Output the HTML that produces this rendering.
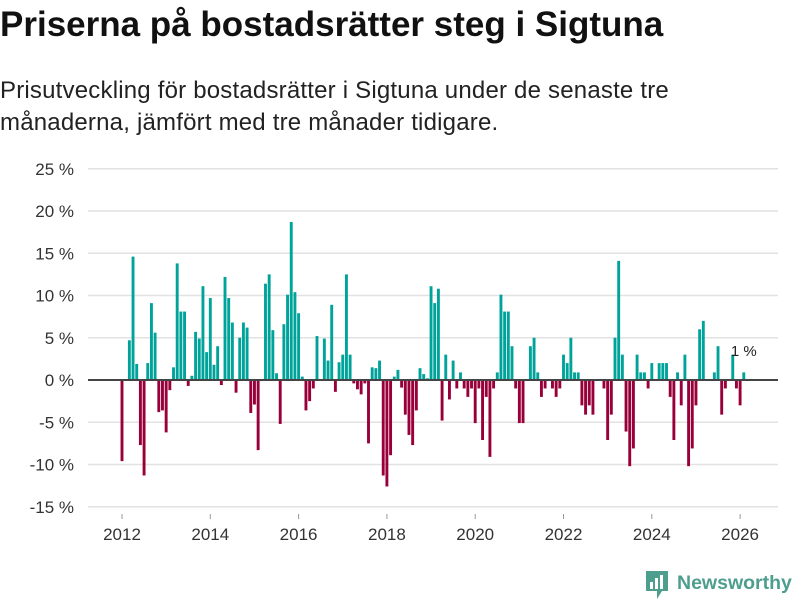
<!DOCTYPE html>
<html><head><meta charset="utf-8"><style>
body{margin:0;background:#fff;font-family:"Liberation Sans",sans-serif;}
#wrap{position:relative;width:800px;height:600px;overflow:hidden;}
h1{position:absolute;left:0;top:5px;margin:0;font-size:35px;font-weight:bold;color:#111;letter-spacing:0px;white-space:nowrap;}
p{position:absolute;left:0;top:75px;margin:0;font-size:24px;line-height:32px;color:#222;width:720px;letter-spacing:0.2px;white-space:nowrap;}
svg{position:absolute;left:0;top:0;}
</style></head><body>
<div id="wrap">
<h1>Priserna på bostadsrätter steg i Sigtuna</h1>
<p>Prisutveckling för bostadsrätter i Sigtuna under de senaste tre<br>månaderna, jämfört med tre månader tidigare.</p>
<svg id="chart" width="800" height="600"></svg>
</div>
<script>
const startYear = 2012;
const values = [-9.6,0,4.7,14.6,1.9,-7.7,-11.3,2.0,9.1,5.6,-3.8,-3.6,-6.2,-1.2,1.5,13.8,8.1,8.1,-0.7,0.5,5.7,4.9,11.1,3.3,9.7,1.8,4.0,-0.6,12.2,9.7,6.8,-1.5,5.0,6.8,6.2,-3.9,-2.9,-8.3,0,11.4,12.5,5.9,0.8,-5.2,6.6,10.1,18.7,10.4,7.9,0.4,-3.6,-2.5,-1.0,5.2,0,4.9,2.3,8.9,-1.4,2.1,3.0,12.5,3.0,-0.4,-1.1,-1.7,-0.4,-7.5,1.5,1.4,2.3,-11.3,-12.6,-8.9,0.4,1.2,-0.9,-4.1,-6.5,-7.7,-3.6,1.4,0.7,0.2,11.1,9.1,10.8,-4.8,3.0,-2.3,2.3,-1.0,0.9,-1.0,-2.0,-1.0,-5.1,-1.0,-7.1,-2.0,-9.1,-1.0,0.9,10.1,8.1,8.1,4.0,-1.0,-5.1,-5.1,0,4.0,5.0,0.9,-2.0,-1.0,0,-1.0,-2.0,-1.0,3.0,2.0,5.0,0.9,0.9,-3.0,-4.1,-3.0,-4.1,0,0,-1.0,-7.1,-4.1,5.0,14.1,3.0,-6.1,-10.2,-8.1,3.0,0.9,0.9,-1.0,2.0,0,2.0,2.0,2.0,-2.0,-7.1,0.9,-3.0,3.0,-10.2,-8.1,-3.0,6.0,7.0,0,0,0.9,4.0,-4.1,-1.0,0,3.0,-1.0,-3.0,0.9];
const yTicks = [-15,-10,-5,0,5,10,15,20,25];
const xTicks = [2012,2014,2016,2018,2020,2022,2024,2026];
const lastLabel = "1 %";

const svg = document.getElementById('chart');
const NS = 'http://www.w3.org/2000/svg';
function yS(v){return 380 - v*8.45;}
function xS(yearFrac){return 122 + (yearFrac-2012)*44.15;}
function mk(t,a){const e=document.createElementNS(NS,t);for(const k in a)e.setAttribute(k,a[k]);svg.appendChild(e);return e;}

yTicks.forEach(t=>{
  if(t!==0){const g=mk('line',{x1:88,x2:778,y1:yS(t),y2:yS(t),stroke:'#e2e2e2','stroke-width':1.5});
  
  }
  const l=mk('text',{x:74,y:yS(t)+6,'text-anchor':'end','font-size':17,fill:'#333','font-family':'Liberation Sans, sans-serif'});
  l.textContent=t+' %';
  
  
});
xTicks.forEach(t=>{
  const tk=mk('line',{x1:xS(t),x2:xS(t),y1:514,y2:519,stroke:'#999','stroke-width':1});
  
  
  const l=mk('text',{x:xS(t),y:540,'text-anchor':'middle','font-size':17,fill:'#333','font-family':'Liberation Sans, sans-serif'});
  l.textContent=t;
  
  
});
values.forEach((v,i)=>{
  if(v===0)return;
  const x=xS(startYear+i/12);
  const y0=yS(0), y1=yS(v);
  const b=mk('rect',{x:x-1.45,y:Math.min(y0,y1),width:2.9,height:Math.abs(y1-y0),fill:v>0?'#00a39a':'#99003a'});
  
  
});
const z=mk('line',{x1:88,x2:778,y1:yS(0),y2:yS(0),stroke:'#444','stroke-width':2});


const lx=xS(startYear+(values.length-1)/12);
const ann=mk('text',{x:lx,y:yS(0)-24,'text-anchor':'middle','font-size':15,fill:'#222','font-family':'Liberation Sans, sans-serif'});
ann.textContent=lastLabel;



const logo=document.createElementNS(NS,'g');


svg.appendChild(logo);
logo.innerHTML='<path d="M646 571 h22 v20 h-6 l-5 8 v-8 h-11 z" fill="#4e9e8e"/><rect x="650" y="582" width="3" height="7" fill="#fff"/><rect x="655" y="578" width="3" height="11" fill="#fff"/><rect x="660" y="575" width="3" height="14" fill="#fff"/><text x="677" y="589" font-size="19.5" font-weight="bold" fill="#4e9e8e" font-family="Liberation Sans, sans-serif">Newsworthy</text>';
</script>
</body></html>
